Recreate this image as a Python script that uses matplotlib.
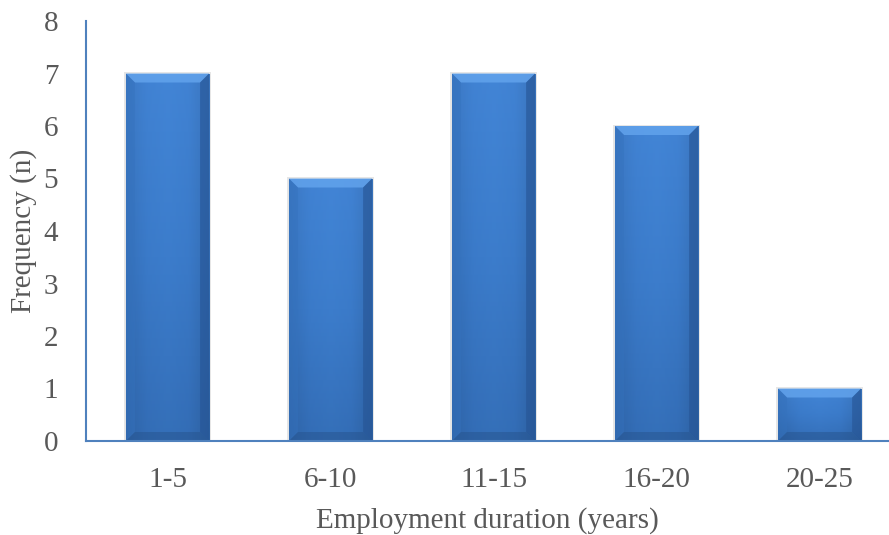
import numpy as np
import matplotlib.pyplot as plt
import matplotlib.transforms as mtransforms
from matplotlib.patches import Polygon, Rectangle
from matplotlib.colors import LinearSegmentedColormap


# ==========================================================
# Data
# ==========================================================

durations = ["1-5", "6-10", "11-15", "16-20", "20-25"]
frequency = [7, 5, 7, 6, 1]

text_grey = "#595959"
axis_blue = "#4f81bd"


# ==========================================================
# Figure
# ==========================================================

plt.rcParams["font.family"] = ["Liberation Serif", "DejaVu Serif"]

fig = plt.figure(figsize=(8.89, 5.35), dpi=100)
ax = fig.add_axes([86 / 889, 1 - 441 / 535, 803 / 889, 420 / 535])

x = np.arange(len(durations))
bars = ax.bar(x, frequency, width=0.51, color="none", zorder=2)

ax.set_xlim(-0.5, 4.426)
ax.set_ylim(0, 8)
ax.set_yticks(range(0, 9))
ax.set_xticks(x)
ax.set_xticklabels(durations)

ax.tick_params(axis="both", length=0, labelsize=21, colors=text_grey)
ax.tick_params(axis="y", pad=20)
ax.tick_params(axis="x", pad=19)

for side in ["top", "right"]:
    ax.spines[side].set_visible(False)
for side in ["left", "bottom"]:
    ax.spines[side].set_color(axis_blue)
    ax.spines[side].set_linewidth(1.5)
    ax.spines[side].set_zorder(5)

ax.set_xlabel("Employment duration (years)", fontsize=21,
              color=text_grey, labelpad=10)
ax.set_ylabel("Frequency (n)", fontsize=21, color=text_grey, labelpad=5)


# ==========================================================
# Bevelled bar faces (drawn in pixel space)
# ==========================================================

fig.canvas.draw()
pix = mtransforms.IdentityTransform()

face_cmap = LinearSegmentedColormap.from_list(
    "face", ["#2c5f9f", "#3a7bcb", "#3f83d4", "#3a7bcb", "#29578f"]
)
shade_cmap = LinearSegmentedColormap.from_list(
    "shade", ["#4587d8", "#3b7ac8", "#3066ab"]
)

bev = 9

for rect in bars.patches:
    (x0, y0), (x1, y1) = ax.transData.transform(
        [(rect.get_x(), 0), (rect.get_x() + rect.get_width(), rect.get_height())]
    )

    # soft shadow outline
    ax.add_patch(Rectangle((x0 - 1.5, y0 - 1.5), x1 - x0 + 3, y1 - y0 + 3,
                           transform=pix, facecolor="#cfcfcf",
                           edgecolor="none", alpha=0.5, zorder=2))

    # vertical shading of the face, lighter at the top
    vgrad = np.linspace(0, 1, 64).reshape(-1, 1)
    im = ax.imshow(vgrad, cmap=shade_cmap, aspect="auto",
                   extent=(x0, x1, y0, y1), transform=pix, zorder=3,
                   interpolation="bicubic")
    clip = Rectangle((x0, y0), x1 - x0, y1 - y0, transform=pix)
    im.set_clip_path(clip)

    # horizontal edge darkening
    hgrad = np.linspace(0, 1, 64).reshape(1, -1)
    im2 = ax.imshow(hgrad, cmap=face_cmap, aspect="auto", alpha=0.35,
                    extent=(x0, x1, y0, y1), transform=pix, zorder=3,
                    interpolation="bicubic")
    im2.set_clip_path(clip)

    # bevel facets
    top = [(x0, y1), (x1, y1), (x1 - bev, y1 - bev), (x0 + bev, y1 - bev)]
    left = [(x0, y0), (x0, y1), (x0 + bev, y1 - bev), (x0 + bev, y0 + bev)]
    right = [(x1, y0), (x1, y1), (x1 - bev, y1 - bev), (x1 - bev, y0 + bev)]
    bottom = [(x0, y0), (x1, y0), (x1 - bev, y0 + bev), (x0 + bev, y0 + bev)]

    ax.add_patch(Polygon(top, closed=True, transform=pix,
                         facecolor="#62a3ec", edgecolor="none",
                         alpha=0.85, zorder=4))
    ax.add_patch(Polygon(left, closed=True, transform=pix,
                         facecolor="#3572bd", edgecolor="none",
                         alpha=0.45, zorder=4))
    ax.add_patch(Polygon(right, closed=True, transform=pix,
                         facecolor="#265494", edgecolor="none",
                         alpha=0.6, zorder=4))
    ax.add_patch(Polygon(bottom, closed=True, transform=pix,
                         facecolor="#27548e", edgecolor="none",
                         alpha=0.5, zorder=4))

fig.savefig("out.png", dpi=100)
